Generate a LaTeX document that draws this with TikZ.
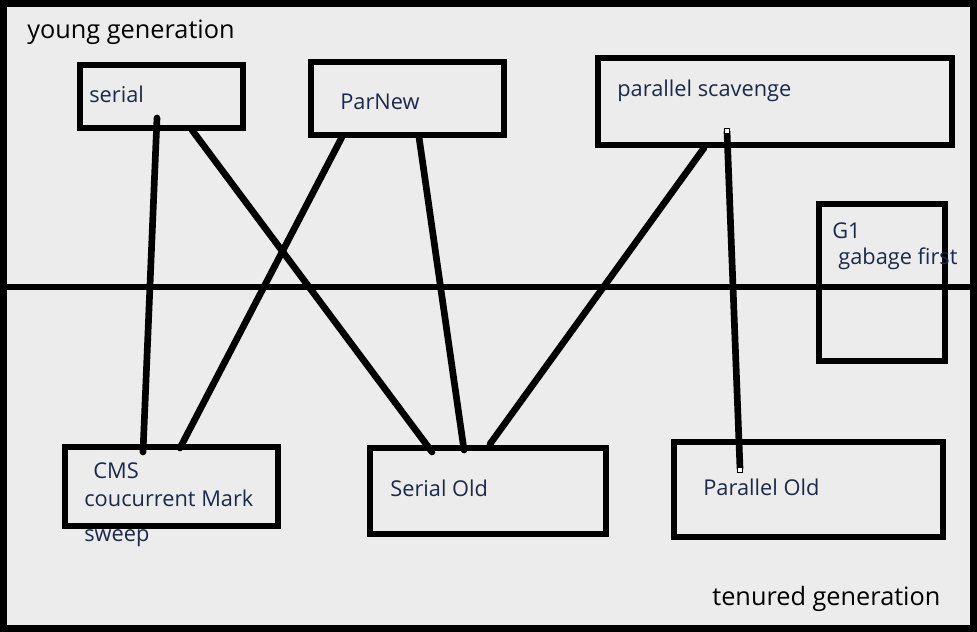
\documentclass[tikz,border=0pt]{standalone}
\usepackage{fontspec}
\setmainfont{Open Sans}
\usepackage{tikz}
\usetikzlibrary{positioning,calc}
\definecolor{palBg}{HTML}{ECECEC}
\definecolor{palInk}{HTML}{1B2A48}
\tikzset{
  gcbox/.style={draw, line width=3.8pt, inner sep=0pt, outer sep=0pt},
  gclabel/.style={anchor=base west, inner sep=0pt, text=palInk,
                  font=\fontsize{12.4}{14}\selectfont},
  genlabel/.style={anchor=base west, inner sep=0pt,
                   font=\fontsize{14.4}{17}\selectfont},
  gclink/.style={line width=3.8pt, line cap=round},
  handle/.style={draw, fill=white, line width=0.4pt, minimum size=3pt,
                 inner sep=0pt},
}
\begin{document}
\begin{tikzpicture}[x=0.02cm, y=-0.02cm]
\useasboundingbox (0,0) rectangle (977,632);
\fill[palBg] (0,0) rectangle (977,632);
%% Frame
\draw[line width=4pt] (3,3) rectangle (974,629);
\draw[line width=3.6pt] (3,287) -- (974,287);
%% Nodes
\node[gcbox, minimum width=3.26cm, minimum height=1.26cm] (serial) at (161.5,96.5) {};
\node[gcbox, minimum width=3.86cm, minimum height=1.46cm] (parnew) at (407.5,98.5) {};
\node[gcbox, minimum width=7.08cm, minimum height=1.74cm] (scav)   at (775,101.5) {};
\node[gcbox, minimum width=2.52cm, minimum height=3.14cm] (gone)   at (882,282.5) {};
\node[gcbox, minimum width=4.26cm, minimum height=1.58cm] (cms)    at (171.5,486.5) {};
\node[gcbox, minimum width=4.72cm, minimum height=1.72cm] (serold) at (488,491) {};
\node[gcbox, minimum width=5.38cm, minimum height=1.90cm] (parold) at (808.5,489.5) {};
%% Labels
\node[genlabel] (young)   at (27,38)   {young generation};
\node[genlabel] (tenured) at (712,605) {tenured generation};
\node[gclabel] (serialT)  at (89,102)  {serial};
\node[gclabel] (parnewT)  at (340,109) {ParNew};
\node[gclabel] (scavT)    at (617,96)  {parallel scavenge};
\node[gclabel] (goneT)    at (832,238) {G1};
\node[gclabel] (goneS)    at (838,264) {gabage first};
\node[gclabel] (cmsT)     at (93,478)  {CMS};
\node[gclabel] (cmsS)     at (84,506)  {coucurrent Mark};
\node[gclabel] (cmsW)     at (84,541)  {sweep};
\node[gclabel] (seroldT)  at (390,496) {Serial Old};
\node[gclabel] (paroldT)  at (703,495) {Parallel Old};
%% Edges
\draw[gclink] ([shift={(-4.5,21.5)}]serial.center) -- ([shift={(-28.5,-34.5)}]cms.center);
\draw[gclink] ([shift={(30.5,33.5)}]serial.center) -- ([shift={(-56,-39)}]serold.center);
\draw[gclink] ([shift={(-65.5,38.5)}]parnew.center) -- ([shift={(8.5,-38.5)}]cms.center);
\draw[gclink] ([shift={(11.5,38.5)}]parnew.center) -- ([shift={(-24,-41)}]serold.center);
\draw[gclink] ([shift={(-71,46.5)}]scav.center) -- ([shift={(2,-47)}]serold.center);
\draw[gclink] ([shift={(-48,30)}]scav.center) -- ([shift={(-68.5,-21)}]parold.center);
\node[handle] at ([shift={(-48,29)}]scav.center) {};
\node[handle] at ([shift={(-68.5,-20)}]parold.center) {};
\end{tikzpicture}
\end{document}
